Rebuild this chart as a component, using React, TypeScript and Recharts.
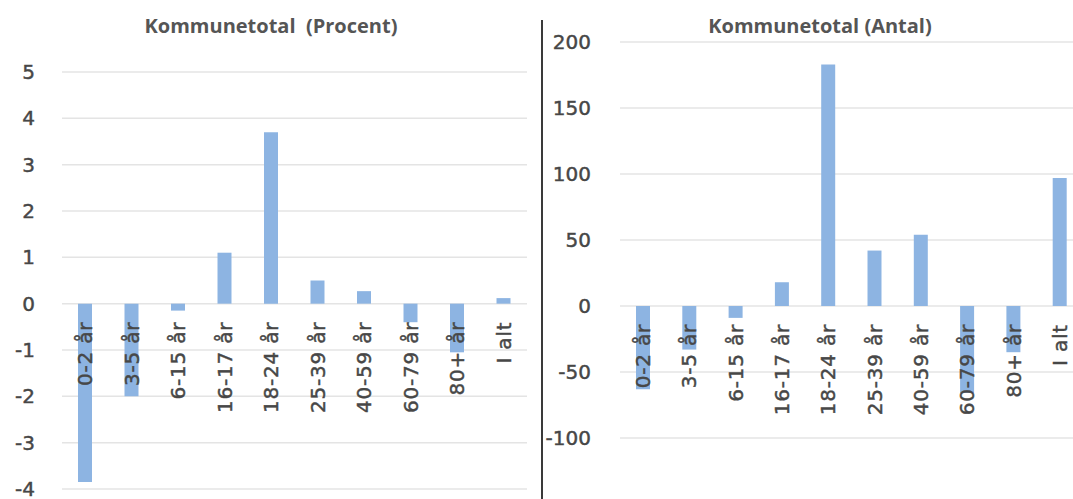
import React from 'react';
import { BarChart, Bar, XAxis, YAxis, CartesianGrid } from 'recharts';

const categories = ['0-2 år', '3-5 år', '6-15 år', '16-17 år', '18-24 år', '25-39 år', '40-59 år', '60-79 år', '80+ år', 'I alt'];
const procentValues = [-3.85, -2.0, -0.15, 1.1, 3.7, 0.5, 0.27, -0.4, -1.05, 0.12];
const antalValues = [-63, -33, -9, 18, 183, 42, 54, -66, -35, 97];
const procentTicks = [-4, -3, -2, -1, 0, 1, 2, 3, 4, 5];
const antalTicks = [-100, -50, 0, 50, 100, 150, 200];
const procentTitle = 'Kommunetotal  (Procent)';
const antalTitle = 'Kommunetotal (Antal)';

const TEXT = '#474747';
const BAR = '#8DB4E2';
const GRID = '#e4e4e4';
const TICK_FONT = 'DejaVu Sans';
const X_AXIS_H = 2;

type PanelProps = {
  left: number;
  width: number;
  height: number;
  margin: { top: number; right: number; bottom: number; left: number };
  yWidth: number;
  yTickMargin: number;
  ticks: number[];
  values: number[];
  title: string;
  titleCenter: number;
};

function XTick(props: any) {
  const { x, payload, zeroY } = props;
  const ty = zeroY + 18;
  return (
    <text
      x={x}
      y={ty}
      transform={`rotate(-90, ${x}, ${ty})`}
      textAnchor="end"
      dominantBaseline="central"
      fill={TEXT}
      stroke={TEXT}
      strokeWidth={0.45}
      fontFamily={TICK_FONT}
      fontSize={20}
      letterSpacing={0.8}
    >
      {payload.value}
    </text>
  );
}

function Panel({ left, width, height, margin, yWidth, yTickMargin, ticks, values, title, titleCenter }: PanelProps) {
  const data = categories.map((c, i) => ({ cat: c, v: values[i] }));
  const min = ticks[0];
  const max = ticks[ticks.length - 1];
  const plotH = height - margin.top - margin.bottom - X_AXIS_H;
  const zeroY = margin.top + (plotH * max) / (max - min);
  return (
    <div style={{ position: 'absolute', left, top: 0, width, height }}>
      <BarChart width={width} height={height} data={data} margin={margin}>
        <CartesianGrid vertical={false} stroke={GRID} strokeWidth={1.5} />
        <XAxis
          dataKey="cat"
          height={X_AXIS_H}
          axisLine={false}
          tickLine={false}
          interval={0}
          tick={<XTick zeroY={zeroY} />}
        />
        <YAxis
          width={yWidth}
          domain={[min, max]}
          ticks={ticks}
          axisLine={false}
          tickLine={false}
          tickSize={0}
          tickMargin={yTickMargin}
          interval={0}
          tick={{ fill: TEXT, stroke: TEXT, strokeWidth: 0.45, fontSize: 20, fontFamily: TICK_FONT }}
        />
        <Bar dataKey="v" fill={BAR} barSize={14} isAnimationActive={false} />
      </BarChart>
      <div
        style={{
          position: 'absolute',
          left: titleCenter - left - 200,
          width: 400,
          top: 12,
          textAlign: 'center',
          fontFamily: 'Open Sans',
          fontWeight: 700,
          fontSize: 20,
          color: '#555555',
          whiteSpace: 'pre',
          lineHeight: '28px',
        }}
      >
        {title}
      </div>
    </div>
  );
}

export default function App() {
  return (
    <div
      style={{
        position: 'absolute',
        left: 0,
        top: 0,
        width: 1073,
        height: 499,
        overflow: 'hidden',
        background: '#ffffff',
      }}
    >
      <Panel
        left={0}
        width={540}
        height={499}
        margin={{ top: 72, right: 13, bottom: 8, left: 0 }}
        yWidth={62}
        yTickMargin={27}
        ticks={procentTicks}
        values={procentValues}
        title={procentTitle}
        titleCenter={271}
      />
      <Panel
        left={545}
        width={545}
        height={499}
        margin={{ top: 42, right: 7, bottom: 59, left: 0 }}
        yWidth={75}
        yTickMargin={29}
        ticks={antalTicks}
        values={antalValues}
        title={antalTitle}
        titleCenter={820}
      />
      <div style={{ position: 'absolute', left: 541, top: 20, width: 2, height: 479, background: '#3a3a3a' }} />
    </div>
  );
}
